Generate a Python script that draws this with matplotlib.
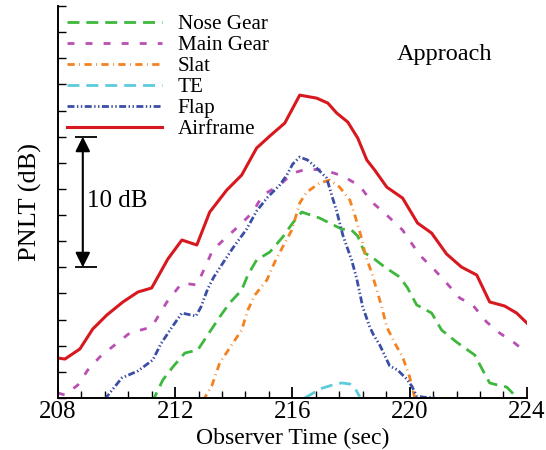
#!/usr/bin/env python3
"""PNLT time history by airframe component, approach condition."""
import matplotlib
matplotlib.use("Agg")
import matplotlib.pyplot as plt
from matplotlib.ticker import MultipleLocator, NullFormatter

# ---------- data ----------
airframe_t = [208.0, 208.24, 208.75, 209.19, 209.67, 210.22, 210.73, 211.20, 211.75,
              212.23, 212.74, 213.18, 213.76, 214.27, 214.78, 215.23, 215.74, 216.25,
              216.83, 217.21, 217.51, 217.89, 218.23, 218.54, 218.81, 219.22, 219.76,
              220.27, 220.75, 221.26, 221.77, 222.29, 222.73, 223.24, 223.65, 224.0]
airframe_db = [3.06, 2.98, 3.75, 5.28, 6.35, 7.35, 8.11, 8.42, 10.63,
               12.09, 11.71, 14.23, 15.91, 17.06, 19.13, 20.05, 21.04, 23.18,
               22.95, 22.57, 21.81, 21.12, 19.89, 18.21, 17.44, 16.14, 15.30,
               13.39, 12.62, 11.02, 10.02, 9.41, 7.35, 7.04, 6.50, 5.74]

main_t = [208.0, 208.24, 208.68, 209.02, 209.43, 209.94, 210.45, 211.20, 211.72,
          212.23, 212.74, 213.01, 213.28, 213.76, 214.21, 214.65, 214.99, 215.57,
          216.01, 216.49, 217.10, 217.72, 218.30, 218.71, 219.22, 219.76, 220.34,
          220.79, 221.26, 221.71, 222.15, 222.63, 223.07, 223.58, 224.0]
main_db = [0.38, 0.23, 0.99, 2.14, 3.14, 4.06, 4.97, 5.43, 7.35,
           8.80, 8.65, 9.95, 11.32, 12.32, 13.24, 14.23, 15.53, 16.30,
           17.21, 17.52, 17.44, 16.99, 16.22, 15.00, 14.00, 12.85, 10.94,
           9.95, 8.80, 7.65, 7.12, 5.81, 4.97, 4.21, 3.44]

nose_t = [211.2, 211.58, 211.92, 212.33, 212.77, 213.11, 213.52, 213.86, 214.27,
          214.48, 214.78, 215.23, 215.67, 216.01, 216.32, 216.93, 217.27, 217.68,
          218.02, 218.23, 218.47, 218.71, 219.15, 219.66, 219.93, 220.24, 220.44,
          220.75, 221.09, 221.60, 222.22, 222.49, 222.73, 223.00, 223.31, 223.8]
nose_db = [-0.4, 1.38, 2.37, 3.44, 3.67, 4.82, 6.20, 7.27, 8.26,
           9.41, 10.56, 11.17, 12.32, 13.39, 14.23, 13.77, 13.39, 12.93,
           12.85, 12.39, 11.09, 10.79, 10.02, 9.26, 8.42, 7.12, 6.89,
           6.50, 5.20, 4.28, 3.29, 2.14, 1.15, 0.99, 0.84, -0.3]

slat_t = [212.95, 213.25, 213.52, 213.93, 214.27, 214.48, 214.72, 215.13, 215.40,
          215.74, 215.98, 216.25, 216.49, 216.93, 217.27, 217.61, 217.96, 218.16,
          218.36, 218.50, 218.71, 218.88, 219.05, 219.22, 219.49, 219.76, 220.00, 220.2]
slat_db = [-0.2, 0.92, 2.68, 4.06, 5.20, 6.73, 7.88, 9.03, 10.41,
           11.86, 12.85, 14.92, 15.76, 16.45, 16.68, 16.14, 15.15, 13.77,
           12.24, 10.86, 9.56, 8.26, 6.96, 5.43, 4.21, 3.14, 1.61, -0.2]

te_t = [216.42, 216.66, 216.93, 217.38, 217.68, 217.96, 218.13, 218.30]
te_db = [0.0, 0.31, 0.69, 1.00, 1.15, 1.07, 0.77, 0.08]

flap_t = [209.6, 209.77, 210.18, 210.73, 211.24, 211.51, 211.85, 212.23, 212.71,
          212.88, 213.11, 213.32, 213.63, 213.97, 214.44, 214.78, 215.16, 215.57,
          215.81, 216.01, 216.25, 216.52, 216.83, 217.17, 217.34, 217.51, 217.72,
          218.02, 218.19, 218.40, 218.64, 218.77, 218.98, 219.32, 219.59, 219.90,
          220.07, 220.24, 220.51, 220.85]
flap_db = [-0.1, 0.38, 1.53, 2.07, 2.91, 4.13, 5.28, 6.50, 6.27,
           6.96, 8.34, 9.26, 10.33, 11.48, 12.93, 14.31, 15.38, 16.30,
           17.06, 17.90, 18.44, 18.21, 17.60, 16.83, 15.53, 14.31, 12.47,
           10.56, 9.18, 6.96, 5.43, 4.82, 4.06, 2.45, 2.14, 1.45,
           0.92, 0.15, 0.05, 0.05]

plt.rcParams["font.family"] = ["Liberation Serif", "DejaVu Serif"]

fig = plt.figure(figsize=(5.46, 4.5), dpi=100)
ax = fig.add_axes([0.106, 0.1156, 0.859, 0.871])

ax.plot(nose_t, nose_db, color="#3db83c", lw=2.0, ls=(0, (4.3, 2.5)), label="Nose Gear")
ax.plot(main_t, main_db, color="#b94fb2", lw=2.0, ls=(0, (2.5, 4.0)), label="Main Gear")
ax.plot(slat_t, slat_db, color="#f5821f", lw=2.0, ls=(0, (2.6, 1.6, 0.3, 1.6)), label="Slat")
ax.plot(te_t, te_db, color="#5ccbdc", lw=2.0, ls=(0, (4.3, 2.5)), label="TE")
ax.plot(flap_t, flap_db, color="#3a4ea6", lw=2.0, ls=(0, (2.5, 0.9, 0.5, 0.9, 0.5, 0.9)), label="Flap")
ax.plot(airframe_t, airframe_db, color="#d7191f", lw=2.2, ls="-", label="Airframe")

ax.set_xlim(208, 224)
ax.set_ylim(0, 30)
ax.xaxis.set_major_locator(MultipleLocator(4))
ax.xaxis.set_minor_locator(MultipleLocator(0.8))
ax.yaxis.set_major_locator(MultipleLocator(2))
ax.yaxis.set_major_formatter(NullFormatter())
ax.tick_params(axis="x", which="major", direction="in", length=8, width=1.3,
               labelsize=18, pad=2)
ax.tick_params(axis="x", which="minor", direction="in", length=5, width=1.0)
ax.tick_params(axis="y", which="major", direction="in", length=6, width=1.0)
for side in ("top", "right"):
    ax.spines[side].set_visible(False)
for side in ("left", "bottom"):
    ax.spines[side].set_linewidth(1.4)

ax.set_xlabel("Observer Time (sec)", fontsize=17, labelpad=4)
ax.set_ylabel("PNLT (dB)", fontsize=19, labelpad=8)

# 10 dB scale bar
ax.annotate("", xy=(208.85, 10), xytext=(208.85, 20),
            arrowprops=dict(arrowstyle="<|-|>", color="black", lw=1.5,
                            mutation_scale=22, shrinkA=0, shrinkB=0))
ax.hlines([10, 20], 208.58, 209.33, color="black", lw=1.3)
ax.text(209.0, 15.1, "10 dB", fontsize=18, va="center", ha="left")

ax.text(221.2, 26.3, "Approach", fontsize=17.5, ha="center", va="center")

ax.legend(loc="upper left", bbox_to_anchor=(0.019, 0.979), frameon=False,
          fontsize=15.2, handlelength=4.5, handletextpad=0.76, labelspacing=0.06,
          borderpad=0.0, borderaxespad=0.0)

fig.savefig("out.png", dpi=100)
